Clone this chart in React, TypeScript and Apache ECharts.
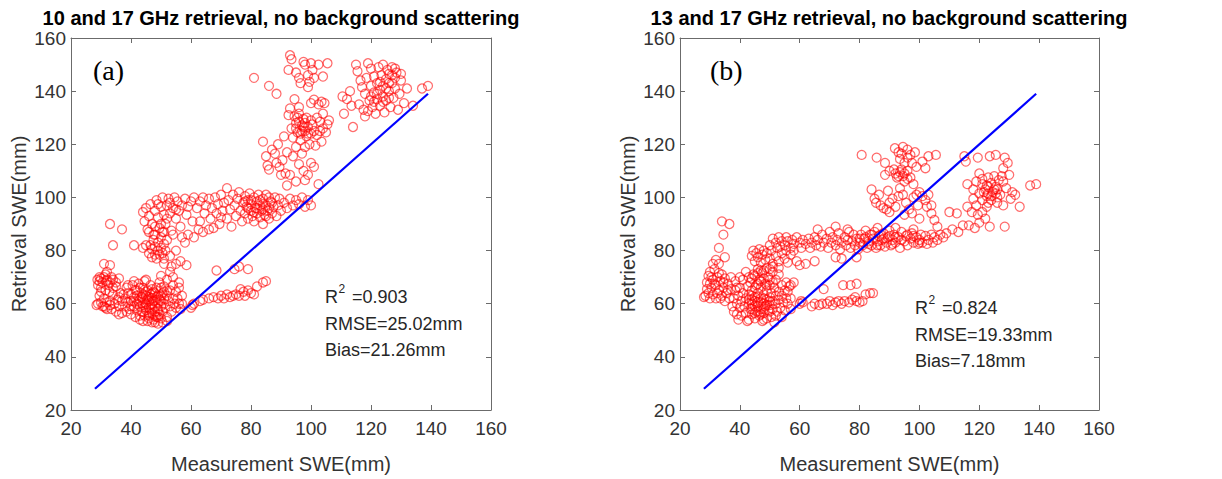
import React, { useEffect, useRef } from "react";
import * as echarts from "echarts";

const FONT = "'Liberation Sans', Arial, Helvetica, sans-serif";
const SERIF = "'Liberation Serif', 'Times New Roman', serif";

const AXIS_MIN = 20;
const AXIS_MAX = 160;
const AXIS_STEP = 20;

const titleA = "10 and 17 GHz retrieval, no background scattering";
const titleB = "13 and 17 GHz retrieval, no background scattering";
const xName = "Measurement SWE(mm)";
const yName = "Retrieval SWE(mm)";

const oneToOneLine: number[][] = [[28, 28], [139, 139]];

const statsA = { r2: "0.903", rmse: "25.02mm", bias: "21.26mm" };
const statsB = { r2: "0.824", rmse: "19.33mm", bias: "7.18mm" };

// Panel (a) scatter: [measurement, retrieval]
const aLeftCluster = [
  [28.5,59.5],[29,60],[29.5,68.5],[30,69.5],[30,66],[30.5,59],[31,70],[31,62],[31.5,65],[31.5,58.5],[32,69],[32,60.5],[32.5,67],[33,61],[33,74.5],[33.5,70],[33.5,58],[34,63.5],[34,69],[34.5,60],[35,66.5],[35,57],[35.5,61.5],[36,69.5],[36,59],[36.5,64],[37,56.5],[37,61],[29.5,63],[30,64.5],[32,72],[31,75],[33,68],[28.8,69],[30.5,68],[31.8,68.5],[32.8,64.5],
  [29,67],[30,60.5],[31,59],[32,58],[33,59.5],[34,66],[35,68],[36,62.5],[29.5,70],[31.5,71],
];
const aDenseCluster = [
  [38,59],[38,62],[38.5,66],[38.5,57],[39,60.5],[39,64],[39.5,58],[40,61],[40,63.5],[40,56],[40.5,67],[41,59],[41,62.5],[41.5,55],[41.5,65],[42,60],[42,57.5],[42,63],[42.5,67.5],[43,59],[43,61.5],[43,54],[43.5,64],[43.5,57],[44,62],[44,59.5],[44,66],[44.5,55.5],[44.5,68.5],[45,60],[45,63],[45,57.5],[45.5,65],[45.5,53.5],[46,61],[46,58.5],[46,55.5],[46.5,63.5],[46.5,67],[47,60],[47,56.5],[47,62],[47.5,54],[47.5,64.5],[48,59],[48,61.5],[48,57],[48,53],[48.5,66],[48.5,55],[49,60.5],[49,63],[49,58],[49.5,56],[49.5,68],[50,61],[50,59],[50,54.5],[50.5,64],[50.5,57],[51,62],[51,60],[51,66.5],[51.5,58.5],[52,55],[52,63],[52,69],[52.5,61],[53,59],[53,65],[53.5,57],[54,62],[54,67],[54.5,60],[55,64.5],[55,58.5],[55.5,62],[56,60],[56,66],[56.5,58],[57,63],[56,68],[54,70],[50,70.5],[45,69],[41,68.5],[39,67],[43,66],[47,65.5],[52,53.5],[49,55],[44,53.5],[46,54.5],[36,56],[37.5,63.5],[57,60],[53,72],[55,75],[56.5,76],[51,75],[53.5,74],
  [42.5,61],[43.5,62.5],[44.5,60.5],[45.5,61.5],[46.5,59.5],[47.5,61],[48.5,62.5],[49.5,61.5],[45,58.5],[46,56.5],[47,58],[48,55.5],[49,57],[44,57],[43,55.5],[46,62.5],[47,64],[45,64.5],[48,64],[50,63],[50,66],[52,65],[51,64.5],[44,63.5],[42,65],[41,61],[40,59],[49,52.5],[47,53],[50.5,53],
];
const aCluster80 = [
  [46,79],[46.5,82],[47,77.5],[47,80.5],[47.5,84],[48,78.5],[48,81.5],[48.5,77],[49,80],[49,83],[49.5,78.5],[50,81],[50,85],[50.5,79],[51,82.5],[51,77],[51.5,80],[52,84],[48,86],[50.5,87],
  [33,90],[37,88],[34,82],[41,82],[45,82],[55,80],[53,78],[58,83],[58.5,74.5],[44,81],
];
const aPlateau = [
  [44,94.5],[44.5,91],[45,96],[45.5,88],[46,93],[46.5,97.5],[47,90],[47.5,86],[48,95],[48.5,99],[49,92.5],[49.5,88.5],[50,96.5],[50.5,100],[51,93.5],[51.5,90],[52,97],[52.5,99.5],[53,94],[53.5,87.5],[54,96],[54.5,100],[55,92],[55.5,98.5],[56,95],[56.5,89],[57,97],[58,99.5],[58.5,93.5],[59,96.5],[60,98.5],[60.5,91],[61,100],[62,96],[62.5,88],[63,98.5],[64,100],[64.5,94],[65,97],[66,99.5],[66.5,92],[67,96],[67.5,88.5],[68,100],[68.5,94],[69,97.5],[69.5,90],[70,101],[70.5,95],[71,98],[72,103.5],[72,92],[72.5,99],[73,95.5],[73.5,89],[74,101],[74.5,97],[75,93],[75.5,99.5],[76,102],[76.5,95],[77,91],[77.5,98],[78,100.5],[78,94],[78.5,96.5],[79,92],[79,99],[79.5,101.5],[80,95],[80,97.5],[80.5,93],[81,100],[81,91],[81.5,96],[82,98.5],[82,94],[82.5,101],[83,92.5],[83,97],[83.5,95],[84,99.5],[84,90],[84.5,93.5],[85,97],[85,101],[85.5,95],[86,92],[86.5,98.5],[87,94],[87.5,96.5],[88,100],[88.5,93],[89,97],[89.5,99.5],[90,95],[91,98],[92,96],[93,99.5],[94,97],[95,99],[96,97.5],[97,100],[98,96.5],[99,99],[100,97],[59,86],[61,85],[64,87],[57,85],[54,86],[63,91],[70,92.5],[66,88],
  [49,97.5],[50,90],[51,87],[52,92],[48,89],[46,87],[55,95.5],[53,98],[80,99],[81,94.5],[82,96],[83,99],[84,95.5],[85,93],[86,96],[79,96],[78,98.5],[86,100],[87,98],[84,97.5],
];
const aTail = [
  [60,58.5],[60.5,59.5],[61,60],[63,61],[64,61.5],[66,62],[67.5,62.5],[69,62],[70,63],[71,62],[72,63.5],[73,62.5],[74,63],[75,63.5],[76,63],[76.5,65.5],[77.5,64.5],[78,63],[79,65],[80,64],[81,63.5],[82,66.5],[84,68],[85,68.5],[68.5,72.5],[74.5,73],[76,74],[79,73],
];
const aUpperMid = [
  [84,121],[85,115.5],[85.5,112],[86,110.5],[87,118],[88,116.5],[88.5,113],[89,120],[89.5,111.5],[90,108.5],[90.5,114],[91,123],[91.5,109],[92,117],[92.5,131],[93,133.5],[93,108.5],[93.5,126],[94,115.5],[94,122.5],[94.5,130.5],[94.5,137],[95,128],[95,119],[95.5,124.5],[96,131.5],[96,112.5],[96.5,121.5],[97,127],[97,116.5],[97.5,129.5],[97.5,110],[98,125],[98,119],[98.5,123],[99,126.5],[99,108.5],[99.5,120],[100,124],[100,113],[100.5,127.5],[101,125],[101,111.5],[101.5,119.5],[102,123.5],[102,130],[102.5,105],[103,125],[103,128.5],[103.5,121],[104,131.5],[104,126],[105,124.5],[105.5,127.5],[106,129],[104.5,135.5],[102.5,135],[96,134],[92,104.5],[95,106],[98,106.5],[100,135.5],
  [95,126],[96,128.5],[97,125],[98,128],[99,124],[96.5,124],[97.5,126.5],[98.5,130],[95.5,130],[100,129],
];
const aTop = [
  [93,153.5],[93.5,152],[92.5,148],[95,147],[96,145],[97.5,151],[98,150],[99,146],[99.5,143.5],[100,150.5],[100.5,148],[101,145],[102.5,150],[104,145.5],[105.5,150.5],[99,141.5],[101,136.8],[96.5,143],[103.5,136],[81,145],[86,142],[88.5,139],
];
const aTopRight = [
  [110.5,138],[111,131.5],[112,137],[113.5,134.5],[114,126.5],[115,150],[115.5,147.5],[116,135],[117,141.5],[117.5,133],[118,139],[118.5,145],[119,132.5],[119.5,136.5],[120,142],[120,148.5],[120.5,134],[121,139.5],[121,145.5],[121.5,131.5],[122,137],[122,143],[122.5,149],[123,140.5],[123,134.5],[123.5,146],[124,138],[124,142],[124.5,132],[125,144.5],[125,136.5],[125.5,148],[126,140],[126,146.5],[126.5,134],[127,143],[127,149],[127.5,137.5],[128,145],[128,141],[128.5,147],[129,133],[129.5,139],[130,144],[130,146.5],[131,135.5],[132,141],[134,134.5],[137,141],[139,142],[118,130.5],[116.5,144],[113,140],[119,150.5],[124,150],
  [122,139],[123,143.5],[124,136],[125,141],[126,143],[127,146],[121,136],[120,138],[128,148.5],[126,137.5],
];

// Panel (b) scatter
const bLeftCluster = [
  [28,62.5],[28.5,63],[29,68],[29.5,70.5],[29.5,64],[30,62],[30,72],[30.5,66],[31,69],[31,63.5],[31.5,73],[32,67],[32,62],[32.5,70],[33,65],[33,75],[33.5,68.5],[34,63],[34,71],[34.5,66],[35,69.5],[35,61],[35.5,64],[36,67.5],[36.5,62],[37,65.5],[37,70],[30,67.5],[32,76.5],[31,75],[35,77.5],[33,81],[34.5,86],[34,91],[36.5,90],
  [29,65.5],[30.5,70],[31.5,67.5],[32.5,64],[33.5,62],[34.5,68],[36,65],[33,71.5],
];
const bDenseCluster = [
  [37.5,59],[38,62],[38,57],[38.5,65],[38.5,68.5],[39,60],[39,56],[39.5,63],[40,58.5],[40,66],[40.5,61],[40.5,55.5],[41,64],[41,69],[41.5,59],[42,62],[42,56.5],[42,72],[42.5,66.5],[43,60],[43,54],[43,63.5],[43.5,58],[43.5,68],[44,61.5],[44,65],[44,56],[44.5,71],[45,59],[45,62.5],[45,54.5],[45.5,67],[45.5,57],[46,60.5],[46,64],[46,73],[46.5,55.5],[46.5,69],[47,62],[47,58],[47,66],[47.5,53.5],[47.5,71.5],[48,60],[48,63.5],[48,56.5],[48.5,67.5],[48.5,59],[49,61.5],[49,65],[49,54.5],[49.5,70],[49.5,57.5],[50,62.5],[50,59.5],[50,67],[50.5,55],[50.5,64],[51,61],[51,58],[51,72],[51.5,66],[51.5,53],[52,63],[52,60],[52,69],[52.5,57],[53,64.5],[53,61.5],[53,71],[53.5,58.5],[54,63],[54,67],[54.5,60.5],[55,65],[55,57.5],[55.5,62],[55.5,68],[56,60],[56,64.5],[56.5,66.5],[57,62],[57,58],[45,70.5],[47,72.5],[43,70],[40,70],[39,66],[49,73.5],[51,74],[53,73.5],[57,67],[58,68],[44,58],[46,57],[48,58],[50,57],[52,55.5],[54,55],[42.5,53.5],[39.5,54],
  [43,61.5],[44,60],[45,61],[46,62.5],[47,60.5],[48,62],[49,59.5],[50,61],[46,59],[47,56],[48,54],[45,56.5],[44,63],[45,66],[46,67.5],[47,68.5],[48,69.5],[49,67],[50,69],[51,68],[48,72.5],[46,71.5],[44,69.5],[50,73],
];
const bBand78 = [
  [44,78],[44.5,80],[45,76],[45.5,79],[46,77.5],[46.5,80.5],[47,75.5],[47.5,78.5],[48,80],[48.5,76.5],[49,79],[50,77],[50.5,80],[51,75],[52,78],[52.5,81],[53,76],[54,79],[55,77],[55.5,80],[56,75.5],[57,78.5],[58,80],[59,76],[60,74.5],[62,75],[65,76],[72,77.5],[74,77],[79,77.5],
];
const bPlateau = [
  [50,82],[51,84.5],[52,83],[53,85],[53.5,81.5],[54,83.5],[55,82],[55.5,85],[56,83.5],[57,81],[57.5,84],[58,82.5],[59,85],[60,83],[60.5,81],[61,84],[62,82.5],[63,84.5],[63.5,81],[64,83],[65,85],[65.5,82],[66,84],[67,81.5],[67.5,86],[68,83],[69,84.5],[69.5,81],[70,87],[70.5,83],[71,85],[72,82],[72.5,84],[73,86.5],[73.5,80.5],[74,83],[75,85],[75.5,82],[76,84],[76.5,87],[77,81],[77.5,83.5],[78,86],[78.5,82],[79,84.5],[79.5,80.5],[80,83],[80.5,86],[81,82],[81.5,84.5],[82,87.5],[82.5,81],[83,83.5],[83.5,86],[84,82],[84.5,84.5],[85,87],[85.5,81],[86,83.5],[86.5,85.5],[87,82],[87.5,84],[88,86.5],[88.5,81.5],[89,83],[89.5,85],[90,87.5],[90.5,82],[91,84],[91.5,86],[92,83],[93,85],[93.5,81],[94,87],[95,83.5],[95.5,85.5],[96,82],[97,84.5],[97.5,86.5],[98,83],[99,85],[99.5,82.5],[100,84],[100.5,86],[101,83],[102,85.5],[102.5,82.5],[103,84],[104,86],[104.5,83],[105,85],[106,84],[107,86],[108,85],[76,88],[72,89],[66,88],[86,88.5],[92,88.5],[98,88],
  [80,84.5],[82,85],[84,86],[86,82],[88,84.5],[90,85.5],[92,85],[94,84],[96,86],[98,85.5],[100,83],[83,82.5],[87,86],[91,82.5],
];
const bTail = [
  [60,60],[60.5,61],[61,60.5],[64,59],[65,60],[66.5,59.5],[67.5,60],[69,60],[70,61],[71,59.5],[72,60.5],[73,61],[74,60],[75,61],[76.5,60.5],[77.5,61.5],[78.5,62.5],[79,61],[80,60.5],[81,61],[82,63.5],[83.5,64],[84.5,64],[68,65.5],[74.5,67],[77,67],[79,67.5],
];
const bUpperMid = [
  [80.7,116],[85.7,115],[88.5,113],[91.8,118.5],[93,117],[93.5,114.5],[94.5,119],[96,118],[97,116],[97.5,113],[98.5,117],[99,111.5],[101,113.5],[102,111],[103,115.5],[105.5,116],[88.5,108.5],[90,110],[91.5,110.5],[92.5,107.5],[93.5,109.5],[94.5,108],[95,106],[96,110],[97,107.5],[98,105],[84,103],[85,99.5],[85.5,98],[86.5,101],[87,97],[88,96],[89.5,102.5],[90,98],[91,99.5],[92,96.5],[93,100.5],[93.5,103.5],[94.5,101],[95.5,98],[96.5,95.5],[97.5,94],[98,100],[99,101],[99.5,97],[100,102],[101,100.5],[102,99],[102.5,96.5],[103,101],[104,94],[105,91.5],[104,97],[89,95.5],[90,94.5],[95,93.5],[100,92],[106,89],
  [93,108],[94,110.5],[95,109],[96,107],[92,109],[95,113],[96,115],[94,116.5],
];
const bRightCluster = [
  [115,115.5],[115.5,113.5],[119.5,115],[123.5,115.5],[125.5,116],[128.5,115],[129.5,113],[128,111],[116,105],[119,106],[120,109],[121,107],[122.5,104.5],[123,107.5],[124.5,102],[125.5,104],[126.5,106.5],[128,106],[129,103.5],[131,102],[130.5,99.5],[122.5,100.5],[121,99],[119,97],[118,99.5],[116,96.5],[117.5,94.5],[119.5,93.5],[121,94.5],[122.5,96.5],[124,99],[125.5,101.5],[123.5,89],[128.5,89],[133.5,96.5],[137,104.5],[139,105],[110,94.5],[112.5,94],[114.5,89.5],[116.5,89.5],[118.5,88.5],[120,90.5],[111,88],[113,87],[109,86.5],[121.5,102],[123,104],[124,100.5],[126,103],[127,101],[125,108],[127.5,108],[130,108.5],[132,101],[118,103],[120,101.5],[126,98],[128,97],[122,92],
  [122,103],[123,101.5],[124,105.5],[125,103],[121,105],[126,100],[123,98],
];

const panelA = [...aLeftCluster, ...aDenseCluster, ...aCluster80, ...aPlateau, ...aTail, ...aUpperMid, ...aTop, ...aTopRight];
const panelB = [...bLeftCluster, ...bDenseCluster, ...bBand78, ...bPlateau, ...bTail, ...bUpperMid, ...bRightCluster];

const GRIDS = [
  { left: 71, top: 38, width: 420, height: 374 },
  { left: 680, top: 38, width: 419, height: 374 },
];

const axisColor = "#6b6b6b";
const labelColor = "#333333";

function xAxes(gi: number) {
  const base = {
    type: "value" as const,
    gridIndex: gi,
    min: AXIS_MIN,
    max: AXIS_MAX,
    interval: AXIS_STEP,
    splitLine: { show: false },
    axisLine: { show: true, onZero: false, lineStyle: { color: axisColor, width: 1 } },
    axisTick: { show: true, inside: true, length: 5, lineStyle: { color: axisColor } },
  };
  return [
    {
      ...base,
      position: "bottom",
      name: xName,
      nameLocation: "middle",
      nameGap: 44,
      nameTextStyle: { fontSize: 20, color: labelColor, fontFamily: FONT },
      axisLabel: { color: labelColor, fontSize: 19, margin: 9, fontFamily: FONT },
    },
    { ...base, position: "top", axisLabel: { show: false } },
  ];
}

function yAxes(gi: number) {
  const base = {
    type: "value" as const,
    gridIndex: gi,
    min: AXIS_MIN,
    max: AXIS_MAX,
    interval: AXIS_STEP,
    splitLine: { show: false },
    axisLine: { show: true, onZero: false, lineStyle: { color: axisColor, width: 1 } },
    axisTick: { show: true, inside: true, length: 5, lineStyle: { color: axisColor } },
  };
  return [
    {
      ...base,
      position: "left",
      name: yName,
      nameLocation: "middle",
      nameRotate: 90,
      nameGap: 42,
      nameTextStyle: { fontSize: 20, color: labelColor, fontFamily: FONT },
      axisLabel: { color: labelColor, fontSize: 19, margin: 5, fontFamily: FONT },
    },
    { ...base, position: "right", axisLabel: { show: false } },
  ];
}

function scatter(data: number[][], axisIdx: number) {
  return {
    type: "scatter",
    xAxisIndex: axisIdx,
    yAxisIndex: axisIdx,
    data,
    symbol: "circle",
    symbolSize: 9,
    itemStyle: { color: "rgba(0,0,0,0)", borderColor: "rgba(255,0,0,0.72)", borderWidth: 1.25 },
    silent: true,
    z: 2,
  };
}

function line(axisIdx: number) {
  return {
    type: "line",
    xAxisIndex: axisIdx,
    yAxisIndex: axisIdx,
    data: oneToOneLine,
    symbol: "none",
    lineStyle: { color: "#0000ff", width: 2.2 },
    silent: true,
    z: 3,
  };
}

function statsText(x0: number, yc: number, s: { r2: string; rmse: string; bias: string }) {
  const st = { fill: "#262626", font: `18px ${FONT}`, textVerticalAlign: "middle" };
  return [
    { type: "text", x: x0, y: yc, style: { ...st, text: "R", textAlign: "left" } },
    { type: "text", x: x0 + 13.5, y: yc - 8, style: { ...st, font: `12px ${FONT}`, text: "2", textAlign: "left" } },
    { type: "text", x: x0 + 27, y: yc, style: { ...st, text: "=" + s.r2, textAlign: "left" } },
    { type: "text", x: x0, y: yc + 26.5, style: { ...st, text: "RMSE=" + s.rmse, textAlign: "left" } },
    { type: "text", x: x0, y: yc + 53, style: { ...st, text: "Bias=" + s.bias, textAlign: "left" } },
  ];
}

export default function App() {
  const ref = useRef<HTMLDivElement>(null);
  useEffect(() => {
    if (!ref.current) return;
    const chart = echarts.init(ref.current, undefined, { renderer: "svg" });
    const titleStyle = { fontSize: 20, fontWeight: "bold", color: "#000", fontFamily: FONT };
    const option: any = {
      animation: false,
      backgroundColor: "#ffffff",
      title: [
        { text: titleA, left: 281, top: 8, padding: 0, textAlign: "center", textStyle: titleStyle },
        { text: titleB, left: 889, top: 8, padding: 0, textAlign: "center", textStyle: titleStyle },
      ],
      grid: GRIDS.map((g) => ({ ...g, containLabel: false })),
      xAxis: [...xAxes(0), ...xAxes(1)],
      yAxis: [...yAxes(0), ...yAxes(1)],
      series: [scatter(panelA, 0), line(0), scatter(panelB, 2), line(2)],
      graphic: [
        { type: "text", x: 93, y: 70, style: { text: "(a)", font: `28px ${SERIF}`, fill: "#000", textVerticalAlign: "middle" } },
        { type: "text", x: 710, y: 70, style: { text: "(b)", font: `28px ${SERIF}`, fill: "#000", textVerticalAlign: "middle" } },
        ...statsText(325, 297, statsA),
        ...statsText(915, 308, statsB),
      ],
    };
    chart.setOption(option);
    return () => chart.dispose();
  }, []);
  return (
    <div
      ref={ref}
      style={{ position: "fixed", left: 0, top: 0, width: 1222, height: 479, background: "#fff" }}
    />
  );
}
